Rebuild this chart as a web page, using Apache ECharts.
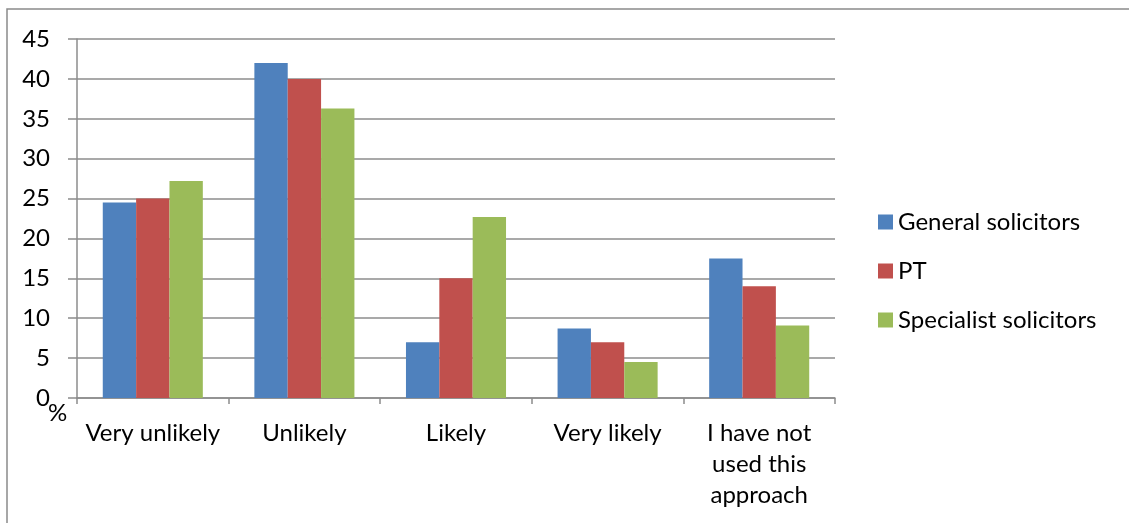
<!DOCTYPE html>
<html>
<head>
<meta charset="utf-8">
<script src="https://cdn.jsdelivr.net/npm/echarts@6/dist/echarts.min.js"></script>
<style>
  html, body { margin: 0; padding: 0; background: #fff; }
  #chart { width: 1129px; height: 523px; }
</style>
</head>
<body>
<div id="chart"></div>
<script>
// categories and values (percent)
const categories = ['Very unlikely', 'Unlikely', 'Likely', 'Very likely', 'I have not\nused this\napproach']
const generalSolicitors = [24.5, 42.0, 7.0, 8.7, 17.5]
const ptValues = [25.0, 40.0, 15.0, 7.0, 14.0]
const specialistSolicitors = [27.2, 36.3, 22.7, 4.5, 9.1]
const seriesNames = ['General solicitors', 'PT', 'Specialist solicitors']
const colorList = ['#4F81BD', '#C0504D', '#9BBB59']

const fontFamily = 'Lato, "Open Sans", sans-serif'
const gridColor = '#8c8c8c'

const chart = echarts.init(document.getElementById('chart'), null, { renderer: 'canvas' })

const makeSeries = (name, data, idx) => ({
  name: name,
  type: 'bar',
  data: data,
  barGap: '0%',
  barCategoryGap: '34%',
  itemStyle: { color: colorList[idx] },
  animation: false
})

chart.setOption({
  textStyle: { fontFamily: fontFamily },
  grid: {
    left: 77,
    right: 294,
    top: 39,
    bottom: 125
  },
  xAxis: {
    type: 'category',
    data: categories,
    axisLine: { lineStyle: { color: gridColor, width: 1.5 } },
    axisTick: { show: true, length: 6, lineStyle: { color: gridColor, width: 1.5 } },
    axisLabel: {
      color: '#000',
      fontSize: 24,
      lineHeight: 31,
      margin: 20,
      interval: 0,
      fontFamily: fontFamily
    }
  },
  yAxis: {
    type: 'value',
    min: 0,
    max: 45,
    interval: 5,
    axisLine: { show: true, lineStyle: { color: gridColor, width: 1.5 } },
    axisTick: { show: true, length: 9, lineStyle: { color: gridColor, width: 1.5 } },
    splitLine: { lineStyle: { color: gridColor, width: 1.5 } },
    axisLabel: {
      color: '#000',
      fontSize: 24,
      margin: 27,
      fontFamily: fontFamily
    }
  },
  legend: {
    orient: 'vertical',
    left: 873,
    top: 205,
    itemWidth: 15,
    itemHeight: 15,
    itemGap: 25,
    icon: 'rect',
    data: seriesNames,
    textStyle: { color: '#000', fontSize: 24, lineHeight: 24, fontFamily: fontFamily }
  },
  graphic: [
    {
      type: 'polyline',
      shape: { points: [[7, 523], [7, 9], [1129, 9]] },
      style: { stroke: '#8a8a8a', lineWidth: 1.5, fill: null },
      silent: true
    },
    {
      type: 'text',
      left: 48,
      top: 401,
      style: { text: '%', fontSize: 24, fill: '#000', fontFamily: fontFamily },
      silent: true
    }
  ],
  series: [
    makeSeries(seriesNames[0], generalSolicitors, 0),
    makeSeries(seriesNames[1], ptValues, 1),
    makeSeries(seriesNames[2], specialistSolicitors, 2)
  ]
})
</script>
</body>
</html>
